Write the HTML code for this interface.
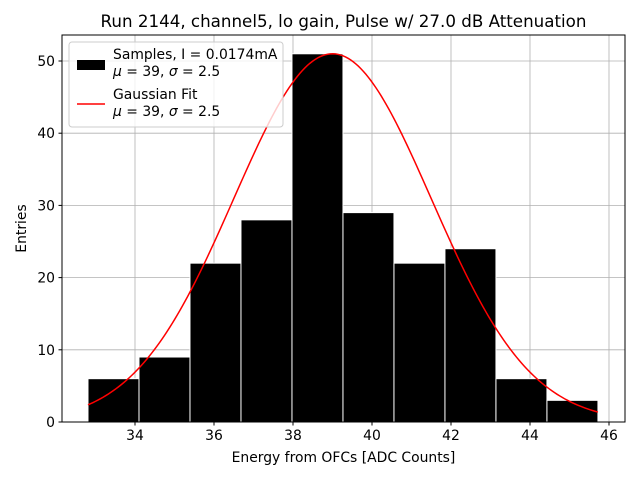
<!DOCTYPE html>
<html><head><meta charset="utf-8"><style>
body{margin:0;background:#fff;font-family:"Liberation Sans","DejaVu Sans",sans-serif}
</style></head><body>
<svg id="chart" width="640" height="480" xmlns="http://www.w3.org/2000/svg" font-family="DejaVu Sans, Liberation Sans, sans-serif">
<rect width="640" height="480" fill="#fff"/>
<text x="343.5" y="27" font-size="16.7" text-anchor="middle">Run 2144, channel5, lo gain, Pulse w/ 27.0 dB Attenuation</text>
<g id="grid"></g>
<g id="bars"></g>
<path id="fit" fill="none" stroke="red" stroke-width="1.5"/>
<rect x="62" y="35" width="563" height="387" fill="none" stroke="#000" stroke-width="1"/>
<g id="xticks"></g><g id="yticks"></g>
<text x="343.5" y="462" font-size="13.9" text-anchor="middle">Energy from OFCs [ADC Counts]</text>
<text transform="translate(26,228.5) rotate(-90)" font-size="13.9" text-anchor="middle">Entries</text>
<g>
<rect x="69" y="42" width="214" height="85" rx="3" fill="#fff" fill-opacity="0.8" stroke="#ccc"/>
<rect x="77" y="60" width="28" height="10" fill="#000"/>
<text x="113" y="59" font-size="13.9">Samples, I = 0.0174mA</text>
<text x="113" y="76" font-size="13.9"><tspan font-style="italic">μ</tspan> = 39, <tspan font-style="italic">σ</tspan> = 2.5</text>
<line x1="77" y1="104" x2="105" y2="104" stroke="red" stroke-width="1.5"/>
<text x="113" y="99" font-size="13.9">Gaussian Fit</text>
<text x="113" y="116" font-size="13.9"><tspan font-style="italic">μ</tspan> = 39, <tspan font-style="italic">σ</tspan> = 2.5</text>
</g>
</svg>
<script>
const binStart = 32.81;
const binWidth = 1.291;
const counts = [6, 9, 22, 28, 51, 29, 22, 24, 6, 3];
const xTicks = [34, 36, 38, 40, 42, 44, 46];
const yTicks = [0, 10, 20, 30, 40, 50];
const fitMu = 39.0, fitSigma = 2.5, fitAmp = 51;
const NS='http://www.w3.org/2000/svg';
const X=v=>135+(v-34)*39.5;
const Y=v=>422-v*7.22;
function mk(t,a,p){const e=document.createElementNS(NS,t);for(const k in a)e.setAttribute(k,a[k]);document.getElementById(p).appendChild(e);return e;}
xTicks.forEach(t=>{
 const g=mk('line',{x1:X(t),x2:X(t),y1:35,y2:422,stroke:'#b0b0b0','stroke-width':0.8},'grid');
 
 
 const l=mk('line',{x1:X(t),x2:X(t),y1:422,y2:425.5,stroke:'#000'},'xticks');
 
 
 const tx=mk('text',{x:X(t),y:440,'font-size':13.9,'text-anchor':'middle'},'xticks');tx.textContent=t;
 
 
});
yTicks.forEach(t=>{
 const g=mk('line',{x1:62,x2:625,y1:Y(t),y2:Y(t),stroke:'#b0b0b0','stroke-width':0.8},'grid');
 
 
 const l=mk('line',{x1:58.5,x2:62,y1:Y(t),y2:Y(t),stroke:'#000'},'yticks');
 
 
 const tx=mk('text',{x:55,y:Y(t)+5,'font-size':13.9,'text-anchor':'end'},'yticks');tx.textContent=t;
 
 
});
counts.forEach((c,i)=>{
 const x0=X(binStart+i*binWidth),x1=X(binStart+(i+1)*binWidth);
 const r=mk('rect',{x:x0,y:Y(c),width:x1-x0,height:Y(0)-Y(c),fill:'#000',stroke:'#fff','stroke-width':1},'bars');
 
 
});
let d='';const a=binStart,b=binStart+counts.length*binWidth;
for(let i=0;i<=200;i++){const v=a+(b-a)*i/200;const y=fitAmp*Math.exp(-((v-fitMu)**2)/(2*fitSigma*fitSigma));d+=(i?'L':'M')+X(v).toFixed(2)+' '+Y(y).toFixed(2);}
document.getElementById('fit').setAttribute('d',d);
</script>
</body></html>
